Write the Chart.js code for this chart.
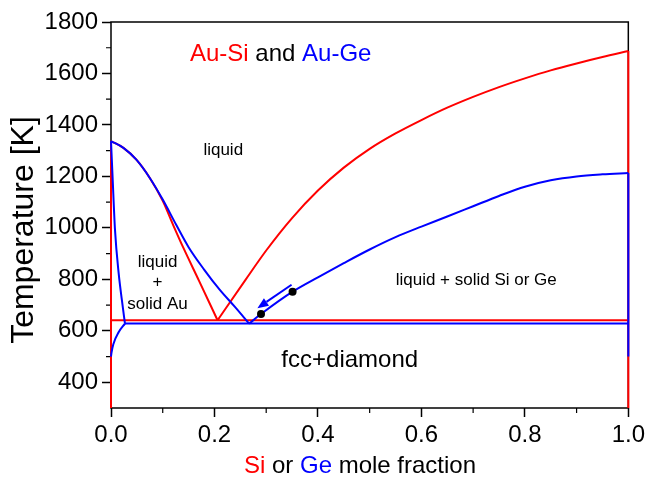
<!DOCTYPE html>
<html>
<head>
<meta charset="utf-8">
<script src="https://cdn.jsdelivr.net/npm/chart.js@4.4.0/dist/chart.umd.min.js"></script>
<style>
  html, body { margin: 0; padding: 0; background: #fff; }
  #wrap { width: 649px; height: 477px; }
</style>
</head>
<body>
<div id="wrap"><canvas id="chart"></canvas></div>
<script>
// axis ticks
const xTicks = [0, 0.2, 0.4, 0.6, 0.8, 1.0];
const xMinor = [0.1, 0.3, 0.5, 0.7, 0.9];
const yTicks = [400, 600, 800, 1000, 1200, 1400, 1600, 1800];
const yMinor = [500, 700, 900, 1100, 1300, 1500, 1700];

// Au-Si (red)
const siLiqLeftX = [0, 0.024, 0.049, 0.075, 0.10, 0.12, 0.14, 0.17, 0.206];
const siLiqLeftT = [1337, 1311, 1265, 1194, 1105, 1012, 922, 795, 641];
const siLiqRightX = [0.206, 0.26, 0.30, 0.35, 0.40, 0.45, 0.50, 0.55, 0.60, 0.65, 0.70, 0.75, 0.80, 0.85, 0.90, 0.95, 1.0];
const siLiqRightT = [641, 798, 912, 1038, 1145, 1234, 1307, 1367, 1419, 1467, 1509, 1547, 1581, 1612, 1639, 1664, 1687];
const siEutecticX = [0, 1];
const siEutecticT = [641, 641];
const siAuSideX = [0, 0];
const siAuSideT = [300, 1337];
const siSiSideX = [1, 1];
const siSiSideT = [300, 1687];

// Au-Ge (blue)
const geLiqLeftX = [0, 0.024, 0.049, 0.075, 0.10, 0.126, 0.15, 0.18, 0.21, 0.24, 0.267];
const geLiqLeftT = [1337, 1311, 1265, 1194, 1110, 1012, 925, 838, 760, 692, 628];
const geLiqRightX = [0.267, 0.29, 0.351, 0.40, 0.45, 0.50, 0.55, 0.60, 0.65, 0.70, 0.75, 0.80, 0.85, 0.90, 0.95, 1.0];
const geLiqRightT = [628, 665, 752, 808, 863, 916, 964, 1005, 1044, 1084, 1124, 1160, 1185, 1200, 1208, 1213];
const geSolidusX = [0, 0.003, 0.0077, 0.015, 0.021, 0.027];
const geSolidusT = [1337, 1200, 993, 820, 720, 628];
const geSolvusX = [0, 0.001, 0.0045, 0.015, 0.027];
const geSolvusT = [500, 515, 548, 595, 628];
const geEutecticX = [0.027, 1];
const geEutecticT = [628, 628];
const geGeSideX = [1, 1];
const geGeSideT = [500, 1213];

// markers and arrow along the Au-Ge liquidus
const dotX = [0.29, 0.351];
const dotT = [665, 752];
const arrowX = [0.349, 0.283];
const arrowT = [779, 688];

const RED = '#ff0000';
const BLUE = '#0000ff';
const FONT = '"Liberation Sans", Arial, sans-serif';

function curve(xs, ts, color, order, smooth) {
  return {
    data: xs.map((v, i) => ({ x: v, y: ts[i] })),
    showLine: true,
    borderColor: color,
    borderWidth: 2,
    pointRadius: 0,
    fill: false,
    tension: smooth ? 0.4 : 0,
    cubicInterpolationMode: smooth ? 'monotone' : 'default',
    order: order,
    clip: false,
  };
}

function drawParts(ctx, parts, cx, cy, font) {
  ctx.font = font;
  const w = parts.reduce((s, p) => s + ctx.measureText(p[0]).width, 0);
  let xx = cx - w / 2;
  ctx.textAlign = 'left';
  ctx.textBaseline = 'middle';
  parts.forEach(([t, c]) => {
    ctx.fillStyle = c;
    ctx.fillText(t, xx, cy);
    xx += ctx.measureText(t).width;
  });
}

const decor = {
  id: 'decor',
  beforeDatasetsDraw(chart) {
    const { ctx, chartArea: a, scales: { x, y } } = chart;
    ctx.save();
    ctx.strokeStyle = '#000';
    ctx.lineWidth = 1.5;
    ctx.strokeRect(a.left, a.top, a.right - a.left, a.bottom - a.top);
    ctx.lineWidth = 1.2;
    ctx.beginPath();
    xMinor.forEach(v => {
      const px = x.getPixelForValue(v);
      ctx.moveTo(px, a.bottom);
      ctx.lineTo(px, a.bottom + 5);
    });
    yMinor.forEach(v => {
      const py = y.getPixelForValue(v);
      ctx.moveTo(a.left, py);
      ctx.lineTo(a.left - 5, py);
    });
    ctx.stroke();
    ctx.restore();
  },
  afterDatasetsDraw(chart) {
    const { ctx, scales: { x, y } } = chart;
    ctx.save();

    // arrow
    const x0 = x.getPixelForValue(arrowX[0]), y0 = y.getPixelForValue(arrowT[0]);
    const x1 = x.getPixelForValue(arrowX[1]), y1 = y.getPixelForValue(arrowT[1]);
    const ang = Math.atan2(y1 - y0, x1 - x0);
    const head = 11, half = 4.5;
    ctx.strokeStyle = BLUE;
    ctx.fillStyle = BLUE;
    ctx.lineWidth = 2;
    ctx.beginPath();
    ctx.moveTo(x0, y0);
    ctx.lineTo(x1 - head * Math.cos(ang), y1 - head * Math.sin(ang));
    ctx.stroke();
    ctx.beginPath();
    ctx.moveTo(x1, y1);
    ctx.lineTo(x1 - head * Math.cos(ang) + half * Math.sin(ang), y1 - head * Math.sin(ang) - half * Math.cos(ang));
    ctx.lineTo(x1 - head * Math.cos(ang) - half * Math.sin(ang), y1 - head * Math.sin(ang) + half * Math.cos(ang));
    ctx.closePath();
    ctx.fill();

    // labels inside the plot
    const big = '24px ' + FONT;
    const small = '17px ' + FONT;
    drawParts(ctx, [['Au-Si', RED], [' and ', '#000'], ['Au-Ge', BLUE]], x.getPixelForValue(0.328), y.getPixelForValue(1674), big);
    drawParts(ctx, [['liquid', '#000']], x.getPixelForValue(0.217), y.getPixelForValue(1300), small);
    drawParts(ctx, [['liquid', '#000']], x.getPixelForValue(0.09), y.getPixelForValue(866), small);
    drawParts(ctx, [['+', '#000']], x.getPixelForValue(0.09), y.getPixelForValue(787), small);
    drawParts(ctx, [['solid Au', '#000']], x.getPixelForValue(0.09), y.getPixelForValue(701), small);
    drawParts(ctx, [['liquid + solid Si or Ge', '#000']], x.getPixelForValue(0.706), y.getPixelForValue(796), small);
    drawParts(ctx, [['fcc+diamond', '#000']], x.getPixelForValue(0.4615), y.getPixelForValue(487), big);

    // axis titles
    drawParts(ctx, [['Si', RED], [' or ', '#000'], ['Ge', BLUE], [' mole fraction', '#000']], 360, 466, big);
    ctx.translate(24, 230);
    ctx.rotate(-Math.PI / 2);
    drawParts(ctx, [['Temperature [K]', '#000']], 0, 0, '32px ' + FONT);
    ctx.restore();
  }
};

const tickFont = { family: FONT, size: 24 };

new Chart(document.getElementById('chart'), {
  type: 'scatter',
  data: {
    datasets: [
      curve(siAuSideX, siAuSideT, RED, 2, false),
      curve(siSiSideX, siSiSideT, RED, 2, false),
      curve(siEutecticX, siEutecticT, RED, 2, false),
      curve(siLiqLeftX, siLiqLeftT, RED, 2, true),
      curve(siLiqRightX, siLiqRightT, RED, 2, true),
      curve(geEutecticX, geEutecticT, BLUE, 1, false),
      curve(geGeSideX, geGeSideT, BLUE, 1, false),
      curve(geLiqLeftX, geLiqLeftT, BLUE, 1, true),
      curve(geLiqRightX, geLiqRightT, BLUE, 1, true),
      curve(geSolidusX, geSolidusT, BLUE, 1, true),
      curve(geSolvusX, geSolvusT, BLUE, 1, true),
      {
        data: dotX.map((v, i) => ({ x: v, y: dotT[i] })),
        showLine: false,
        pointRadius: 4,
        pointBackgroundColor: '#000',
        pointBorderWidth: 0,
        order: 0,
        clip: false,
      },
    ],
  },
  options: {
    responsive: true,
    maintainAspectRatio: false,
    animation: false,
    layout: { padding: { top: 22, right: 18, left: 0, bottom: 0 } },
    plugins: { legend: { display: false }, tooltip: { enabled: false } },
    scales: {
      x: {
        type: 'linear',
        min: 0,
        max: 1,
        afterBuildTicks: s => { s.ticks = xTicks.map(v => ({ value: v })); },
        afterFit: s => { s.height = 69; },
        ticks: { font: tickFont, color: '#000', padding: 4, maxRotation: 0, autoSkip: false, callback: v => Number(v).toFixed(1) },
        grid: { drawOnChartArea: false, tickLength: 9, tickColor: '#000', tickWidth: 1.5 },
        border: { display: false },
      },
      y: {
        type: 'linear',
        min: 300,
        max: 1800,
        afterBuildTicks: s => { s.ticks = yTicks.map(v => ({ value: v })); },
        afterFit: s => { s.width = 111; },
        ticks: { font: tickFont, color: '#000', padding: 4, autoSkip: false, callback: v => String(v) },
        grid: { drawOnChartArea: false, tickLength: 9, tickColor: '#000', tickWidth: 1.5 },
        border: { display: false },
      },
    },
  },
  plugins: [decor],
});
</script>
</body>
</html>
